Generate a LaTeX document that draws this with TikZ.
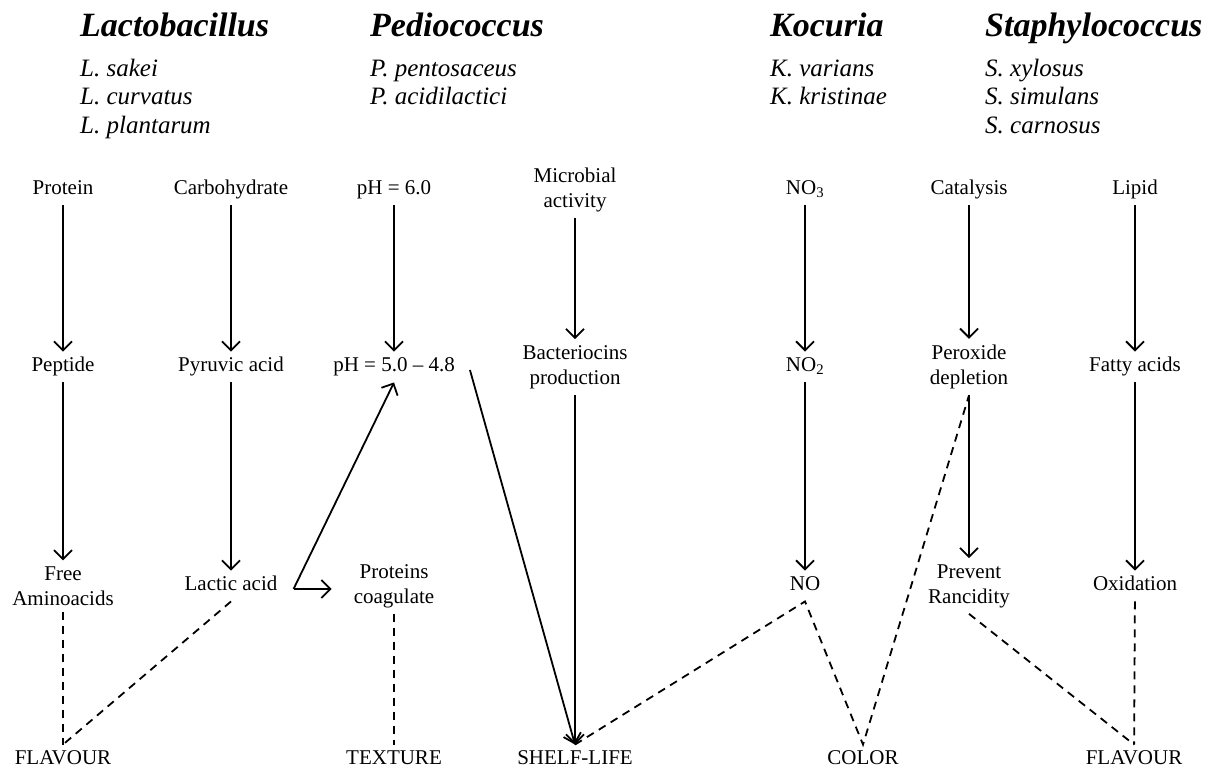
\documentclass[tikz,border=0pt]{standalone}
\usepackage{fontspec}
\setmainfont{Liberation Serif}
\usetikzlibrary{arrows.meta}

\tikzset{
  genus/.style={font={\fontsize{34}{38}\selectfont\bfseries\itshape}, anchor=base west, inner sep=0pt},
  species/.style={font={\fontsize{25}{28}\selectfont\itshape}, anchor=base west, inner sep=0pt},
  stage/.style={font={\fontsize{21}{25}\selectfont}, align=center, inner sep=6pt},
  oneline/.style={stage, text height=14pt, text depth=4.5pt},
  flow/.style={line width=1.8pt, -{Straight Barb[length=9pt,width=18pt,line width=1.8pt]}},
  link/.style={line width=1.8pt, dash pattern=on 8pt off 6pt},
}

\begin{document}
\begin{tikzpicture}[x=1pt,y=-1pt]
\useasboundingbox (0,0) rectangle (1230,768);
% genera and species
\node[genus] (lacto) at (80,37) {Lactobacillus};
\node[species] (lsak) at (80,76) {L. sakei};
\node[species] (lcur) at (80,104.5) {L. curvatus};
\node[species] (lpla) at (80,133) {L. plantarum};
\node[genus] (pedio) at (370,37) {Pediococcus};
\node[species] (ppen) at (370,76) {P. pentosaceus};
\node[species] (paci) at (370,104.5) {P. acidilactici};
\node[genus] (kocu) at (770,37) {Kocuria};
\node[species] (kvar) at (770,76) {K. varians};
\node[species] (kkri) at (770,104.5) {K. kristinae};
\node[genus] (staph) at (985,37) {Staphylococcus};
\node[species] (sxyl) at (985,76) {S. xylosus};
\node[species] (ssim) at (985,104.5) {S. simulans};
\node[species] (scar) at (985,133) {S. carnosus};
% first row
\node[oneline] (protein) at (63,190) {Protein};
\node[oneline] (carb) at (231,190) {Carbohydrate};
\node[oneline] (ph1) at (394,190) {pH = 6.0};
\node[stage] (microb) at (575,190) {Microbial\\activity};
\node[oneline] (no3) at (805,190) {NO\textsubscript{3}};
\node[oneline] (catal) at (969,190) {Catalysis};
\node[oneline] (lipid) at (1135,190) {Lipid};
% second row
\node[oneline] (peptide) at (63,367) {Peptide};
\node[oneline] (pyruvic) at (231,367) {Pyruvic acid};
\node[oneline] (ph2) at (394,367) {pH = 5.0 -- 4.8};
\node[stage] (bacterio) at (575,367) {Bacteriocins\\production};
\node[oneline] (no2) at (805,367) {NO\textsubscript{2}};
\node[stage] (perox) at (969,367) {Peroxide\\depletion};
\node[oneline] (fatty) at (1135,367) {Fatty acids};
% third row
\node[stage] (freeaa) at (63,586) {Free\\Aminoacids};
\node[oneline] (lactic) at (231,586) {Lactic acid};
\node[stage] (procoag) at (394,586) {Proteins\\coagulate};
\node[oneline] (no) at (805,586) {NO};
\node[stage] (prevent) at (969,586) {Prevent\\Rancidity};
\node[oneline] (oxid) at (1135,586) {Oxidation};
% effects
\node[oneline] (flav1) at (63,760) {FLAVOUR};
\node[oneline] (texture) at (394,760) {TEXTURE};
\node[oneline] (shelf) at (575,760) {SHELF-LIFE};
\node[oneline] (color) at (863,760) {COLOR};
\node[oneline] (flav2) at (1134,760) {FLAVOUR};
\coordinate (fork) at ([xshift=10pt,yshift=-3pt]lactic.east);
% pathways
\draw[flow] (protein) -- (peptide);
\draw[flow] (peptide) -- (freeaa);
\draw[flow] (carb) -- (pyruvic);
\draw[flow] (pyruvic) -- (lactic);
\draw[flow] (ph1) -- (ph2);
\draw[flow] (fork) -- (ph2.south);
\draw[flow, shorten >=16pt] (fork) -- (fork -| procoag.west);
\draw[flow] ([xshift=9pt,yshift=-3pt]ph2.east) -- (shelf.north);
\draw[flow] (microb) -- (bacterio);
\draw[flow] (bacterio) -- (shelf);
\draw[flow] (no3) -- (no2);
\draw[flow] (no2) -- (no);
\draw[flow] (catal) -- (perox);
\draw[flow] (perox) -- (prevent);
\draw[flow] (lipid) -- (fatty);
\draw[flow] (fatty) -- (oxid);
% effect links
\draw[link] (freeaa) -- (flav1);
\draw[link] (lactic.south) -- (flav1.north);
\draw[link] (procoag) -- (texture);
\draw[link] (shelf.north) -- (no.south) -- (color.north) -- (perox.south);
\draw[link] (prevent.south) -- (flav2.north);
\draw[link] (oxid) -- (flav2);
\end{tikzpicture}
\end{document}
